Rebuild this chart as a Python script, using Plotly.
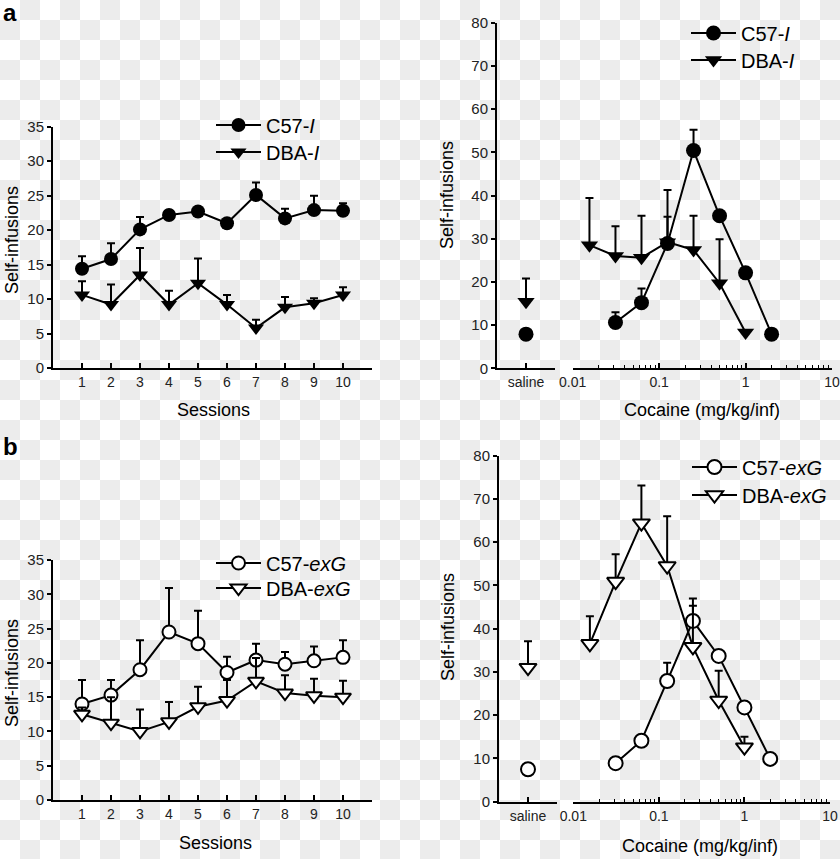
import plotly.graph_objects as go

W, H = 840, 859
FONT = "Liberation Sans, Arial, sans-serif"

# ---------------- data ----------------
sessions = [1, 2, 3, 4, 5, 6, 7, 8, 9, 10]
session_ticks = ["1", "2", "3", "4", "5", "6", "7", "8", "9", "10"]

# panel a, left: acquisition sessions
c57_i_sess = [14.4, 15.8, 20.1, 22.2, 22.7, 21.0, 25.1, 21.7, 22.9, 22.8]
c57_i_sess_err = [1.8, 2.3, 1.8, 0.6, 0.5, 0.5, 1.8, 1.4, 2.1, 1.1]
dba_i_sess = [10.6, 9.2, 13.5, 9.2, 12.3, 9.2, 5.8, 8.8, 9.4, 10.6]
dba_i_sess_err = [2.0, 2.9, 3.9, 2.0, 3.6, 1.4, 1.2, 1.5, 0.7, 1.1]

# panel a, right: dose-response
saline_pos = [1]
c57_i_saline, c57_i_saline_err = 7.9, 0.0
dba_i_saline, dba_i_saline_err = 15.4, 5.4
c57_i_doses = [0.03125, 0.0625, 0.125, 0.25, 0.5, 1, 2]
c57_i_dose = [10.6, 15.2, 28.9, 50.4, 35.3, 22.1, 7.9]
c57_i_dose_err = [2.4, 3.3, 12.4, 4.8, 0.0, 0.0, 0.0]
dba_i_doses = [0.015625, 0.03125, 0.0625, 0.125, 0.25, 0.5, 1]
dba_i_dose = [28.5, 26.0, 25.6, 29.2, 27.4, 19.7, 8.3]
dba_i_dose_err = [10.9, 6.9, 9.7, 5.9, 7.9, 10.2, 0.0]

# panel b, left: acquisition sessions
c57_exg_sess = [14.0, 15.3, 19.0, 24.5, 22.8, 18.6, 20.4, 19.8, 20.3, 20.8]
c57_exg_sess_err = [3.5, 2.2, 4.3, 6.4, 4.8, 2.3, 2.4, 1.8, 2.1, 2.5]
dba_exg_sess = [12.5, 11.2, 10.0, 11.4, 13.6, 14.5, 17.3, 15.6, 15.2, 15.0]
dba_exg_sess_err = [1.0, 3.8, 3.2, 2.9, 2.9, 3.0, 3.4, 2.6, 2.5, 2.4]

# panel b, right: dose-response
c57_exg_saline, c57_exg_saline_err = 7.5, 0.0
dba_exg_saline, dba_exg_saline_err = 31.0, 6.1
c57_exg_doses = [0.03125, 0.0625, 0.125, 0.25, 0.5, 1, 2]
c57_exg_dose = [8.9, 14.1, 27.9, 41.8, 33.7, 21.8, 9.9]
c57_exg_dose_err = [0.0, 0.0, 4.2, 5.2, 0.0, 0.0, 0.0]
dba_exg_doses = [0.015625, 0.03125, 0.0625, 0.125, 0.25, 0.5, 1]
dba_exg_dose = [36.5, 50.9, 64.4, 54.5, 35.8, 23.4, 12.6]
dba_exg_dose_err = [6.4, 6.3, 8.7, 11.5, 9.5, 6.9, 2.4]

log_major = [0.01, 0.1, 1, 10]
log_major_text = ["0.01", "0.1", "1", "10"]
log_minor = [m * d for d in (0.01, 0.1, 1) for m in range(2, 10)]

# ---------------- helpers ----------------
def fx(p):
    return p / W


def fy(p):
    return 1 - p / H


def series(x, y, err, xa, ya, name, symbol, filled, size, legend, showlegend, mode="lines+markers"):
    return go.Scatter(
        x=x, y=y, mode=mode, name=name, xaxis=xa, yaxis=ya,
        legend=legend, showlegend=showlegend, legendgroup=name + legend,
        line=dict(color="black", width=2),
        marker=dict(symbol=symbol, size=size,
                    color="black" if filled else "white",
                    line=dict(color="black", width=0 if filled else 2)),
        error_y=dict(type="data", symmetric=False, array=err,
                     arrayminus=[0] * len(err), color="black",
                     thickness=2, width=4),
        hoverinfo="skip",
    )


fig = go.Figure()

# page background (checkered, as in the reference picture)
nx, ny = 42, 43
z = [[(i + j) % 2 for j in range(nx)] for i in range(ny)]
fig.add_trace(go.Heatmap(z=z, x0=10, dx=20, y0=10, dy=20,
                         colorscale=[[0, "#ffffff"], [1, "#ececec"]],
                         showscale=False, hoverinfo="skip", xaxis="x", yaxis="y"))

C57_I = "C57-<i>I</i>"
DBA_I = "DBA-<i>I</i>"
C57_G = "C57-<i>exG</i>"
DBA_G = "DBA-<i>exG</i>"

# panel a left
fig.add_trace(series(sessions, c57_i_sess, c57_i_sess_err, "x2", "y2", C57_I, "circle", True, 14, "legend", True))
fig.add_trace(series(sessions, dba_i_sess, dba_i_sess_err, "x2", "y2", DBA_I, "triangle-down", True, 14, "legend2", True))
# panel a right
fig.add_trace(series(c57_i_doses, c57_i_dose, c57_i_dose_err, "x4", "y3", C57_I, "circle", True, 15, "legend3", True))
fig.add_trace(series(dba_i_doses, dba_i_dose, dba_i_dose_err, "x4", "y3", DBA_I, "triangle-down", True, 15, "legend4", True))
fig.add_trace(series(saline_pos, [c57_i_saline], [c57_i_saline_err], "x3", "y3", C57_I, "circle", True, 15, "legend3", False, mode="markers"))
fig.add_trace(series(saline_pos, [dba_i_saline], [dba_i_saline_err], "x3", "y3", DBA_I, "triangle-down", True, 15, "legend4", False, mode="markers"))
# panel b left
fig.add_trace(series(sessions, c57_exg_sess, c57_exg_sess_err, "x5", "y5", C57_G, "circle", False, 13, "legend5", True))
fig.add_trace(series(sessions, dba_exg_sess, dba_exg_sess_err, "x5", "y5", DBA_G, "triangle-down", False, 14, "legend6", True))
# panel b right
fig.add_trace(series(c57_exg_doses, c57_exg_dose, c57_exg_dose_err, "x7", "y6", C57_G, "circle", False, 14, "legend7", True))
fig.add_trace(series(dba_exg_doses, dba_exg_dose, dba_exg_dose_err, "x7", "y6", DBA_G, "triangle-down", False, 15, "legend8", True))
fig.add_trace(series(saline_pos, [c57_exg_saline], [c57_exg_saline_err], "x6", "y6", C57_G, "circle", False, 14, "legend7", False, mode="markers"))
fig.add_trace(series(saline_pos, [dba_exg_saline], [dba_exg_saline_err], "x6", "y6", DBA_G, "triangle-down", False, 15, "legend8", False, mode="markers"))

# ---------------- axes ----------------
axis_common = dict(showline=True, linecolor="black", linewidth=2, showgrid=False,
                   zeroline=False, tickcolor="black", tickwidth=1.5, fixedrange=True,
                   automargin=False)


def yax(top, bottom, rng, dtick, anchor):
    return dict(domain=[fy(bottom), fy(top)], range=rng, tickmode="linear", tick0=0,
                dtick=dtick, ticks="outside", ticklen=4, anchor=anchor,
                tickfont=dict(size=15, color="#222"), **axis_common)


def x_sessions(left, right, anchor):
    return dict(domain=[fx(left), fx(right)], range=[0, 11], tickmode="array",
                tickvals=sessions + [11], ticktext=session_ticks + [""],
                ticks="inside", ticklen=5, anchor=anchor,
                tickfont=dict(size=14, color="#222"), **axis_common)


def x_saline(left, right, anchor):
    return dict(domain=[fx(left), fx(right)], range=[0, 2],
                tickmode="array", tickvals=[1, 2], ticktext=["saline", ""],
                ticks="inside", ticklen=5, anchor=anchor,
                tickfont=dict(size=14, color="#222"), **axis_common)


def x_log(left, right, anchor):
    return dict(domain=[fx(left), fx(right)], type="log", range=[-2, 1],
                tickmode="array", tickvals=log_major, ticktext=log_major_text,
                ticks="inside", ticklen=5, anchor=anchor,
                minor=dict(tickmode="array", tickvals=log_minor, ticks="inside",
                           ticklen=3, tickwidth=1, tickcolor="black"),
                tickfont=dict(size=14, color="#222"), **axis_common)


def legend_at(xp, yp):
    return dict(x=fx(xp), y=fy(yp), xanchor="left", yanchor="middle",
                bgcolor="rgba(0,0,0,0)", borderwidth=0, itemwidth=45,
                font=dict(family=FONT, size=20, color="black"),
                itemclick=False, itemdoubleclick=False)


layout = dict(
    width=W, height=H,
    margin=dict(l=0, r=0, t=0, b=0, autoexpand=False),
    paper_bgcolor="white", plot_bgcolor="rgba(0,0,0,0)",
    font=dict(family=FONT, color="black"),
    xaxis=dict(domain=[0, 1], range=[0, W], visible=False, fixedrange=True),
    yaxis=dict(domain=[0, 1], range=[H, 0], visible=False, fixedrange=True),
    xaxis2=x_sessions(53, 372, "y2"),
    yaxis2=yax(126.7, 368, [0, 35], 5, "x2"),
    xaxis3=x_saline(497, 555, "y3"),
    xaxis4=x_log(572.7, 832, "y3"),
    yaxis3=yax(22.7, 368.3, [0, 80], 10, "x3"),
    xaxis5=x_sessions(53, 372, "y5"),
    yaxis5=yax(560, 800, [0, 35], 5, "x5"),
    xaxis6=x_saline(499, 557, "y6"),
    xaxis7=x_log(573.3, 830, "y6"),
    yaxis6=yax(455.7, 801.7, [0, 80], 10, "x6"),
    legend=legend_at(211, 125),
    legend2=legend_at(211, 152),
    legend3=legend_at(686, 33),
    legend4=legend_at(686, 60),
    legend5=legend_at(211, 563),
    legend6=legend_at(211, 588),
    legend7=legend_at(687, 467),
    legend8=legend_at(687, 495),
)
fig.update_layout(**layout)

# ---------------- text ----------------
def ann(text, xp, yp, size=18, angle=0, bold=False):
    fig.add_annotation(text=f"<b>{text}</b>" if bold else text, x=fx(xp), y=fy(yp),
                       xref="paper", yref="paper", showarrow=False, textangle=angle,
                       xanchor="center", yanchor="middle",
                       font=dict(family=FONT, size=size, color="black"))


ann("a", 10, 12, size=24, bold=True)
ann("b", 10, 447, size=24, bold=True)
ann("Self-infusions", 12, 240, angle=-90)
ann("Self-infusions", 447, 195, angle=-90)
ann("Self-infusions", 12, 673, angle=-90)
ann("Self-infusions", 448, 627, angle=-90)
ann("Sessions", 213, 410)
ann("Sessions", 216, 843)
ann("Cocaine (mg/kg/inf)", 702, 410)
ann("Cocaine (mg/kg/inf)", 700, 846)

fig.write_html("out.html",
               config={"displayModeBar": False},
               post_script="document.body.style.margin='0';"
                           "document.body.style.overflow='hidden';")
